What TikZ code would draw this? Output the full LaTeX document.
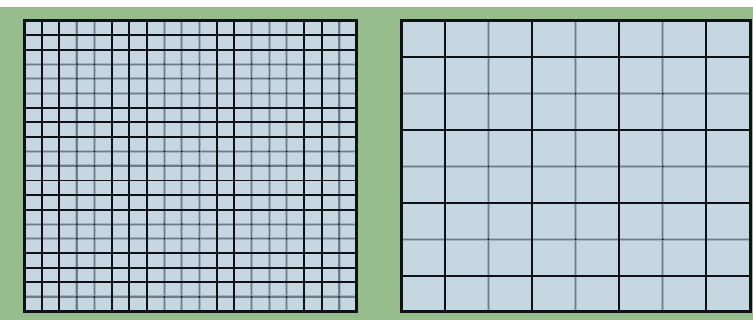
\documentclass[tikz,border=0pt]{standalone}
\definecolor{bggreen}{HTML}{97BD8D}
\definecolor{cellfill}{HTML}{C6D7E1}
\definecolor{halo}{HTML}{A3B2BC}
\definecolor{core}{HTML}{6E7E89}
\definecolor{ink}{HTML}{0E1217}
\begin{document}
\begin{tikzpicture}[x=1pt,y=-1pt,
  blk/.style={line width=1.9pt,draw=ink},
  gryhalo/.style={line width=3pt,draw=halo},
  grycore/.style={line width=1.2pt,draw=core},
  frame/.style={line width=3pt,draw=ink,line join=miter},
  gridbox/.style={fill=cellfill,draw=none,inner sep=0pt,outer sep=0pt}]
% background
\fill[white] (0,0) rectangle (753,320);
\fill[bggreen] (0,7) rectangle (753,320);
\useasboundingbox (0,0) rectangle (753,320);
% ---------------- left grid (19 x 20) ----------------
\node[gridbox,minimum width=332pt,minimum height=291pt,anchor=north west] (leftgrid) at (24.5,20.5) {};
\foreach \i in {3,4,8,9,10,13,14,15,18}{
  \draw[gryhalo] ({24.5+\i*332/19},20.5) -- ({24.5+\i*332/19},311.5);
}
\foreach \j in {3,4,5,9,10,14,15,19}{
  \draw[gryhalo] (24.5,{20.5+\j*291/20}) -- (356.5,{20.5+\j*291/20});
}
\foreach \i in {3,4,8,9,10,13,14,15,18}{
  \draw[grycore] ({24.5+\i*332/19},20.5) -- ({24.5+\i*332/19},311.5);
}
\foreach \j in {3,4,5,9,10,14,15,19}{
  \draw[grycore] (24.5,{20.5+\j*291/20}) -- (356.5,{20.5+\j*291/20});
}
\foreach \i in {3,4,8,9,10,13,14,15,18}{
  \foreach \j in {3,4,5,9,10,14,15,19}{
    \fill[ink] ({24.5+\i*332/19},{20.5+\j*291/20}) circle (1pt);
  }
}
\foreach \i in {1,2,5,6,7,11,12,16,17}{
  \draw[blk] ({24.5+\i*332/19},20.5) -- ({24.5+\i*332/19},311.5);
}
\foreach \j in {1,2,6,7,8,11,12,13,16,17,18}{
  \draw[blk] (24.5,{20.5+\j*291/20}) -- (356.5,{20.5+\j*291/20});
}
\draw[frame] (leftgrid.north west) rectangle (leftgrid.south east);
% ---------------- right grid (8 x 8) ----------------
\node[gridbox,minimum width=349pt,minimum height=291pt,anchor=north west] (rightgrid) at (401,21) {};
\foreach \i in {2,4,6}{
  \draw[gryhalo] ({401+\i*349/8},21) -- ({401+\i*349/8},312);
  \draw[gryhalo] (401,{21+\i*291/8}) -- (750,{21+\i*291/8});
}
\foreach \i in {2,4,6}{
  \draw[grycore] ({401+\i*349/8},21) -- ({401+\i*349/8},312);
  \draw[grycore] (401,{21+\i*291/8}) -- (750,{21+\i*291/8});
}
\foreach \i in {2,4,6}{
  \foreach \j in {2,4,6}{
    \fill[ink] ({401+\i*349/8},{21+\j*291/8}) circle (1pt);
  }
}
\foreach \i in {1,3,5,7}{
  \draw[blk] ({401+\i*349/8},21) -- ({401+\i*349/8},312);
  \draw[blk] (401,{21+\i*291/8}) -- (750,{21+\i*291/8});
}
\draw[frame] (rightgrid.north west) rectangle (rightgrid.south east);
\end{tikzpicture}
\end{document}
